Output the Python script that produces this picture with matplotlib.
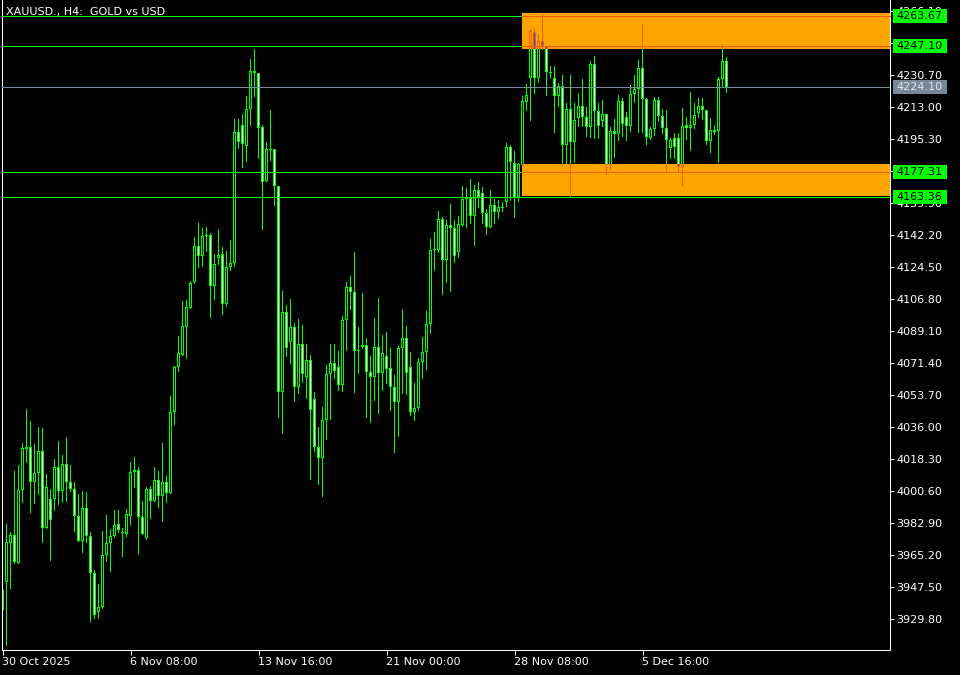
import numpy as np
import matplotlib
matplotlib.use("Agg")
import matplotlib.pyplot as plt
import matplotlib.transforms as mtransforms
from matplotlib.patches import Rectangle

# XAUUSD H4 bars, 30 Oct 2025 -> 9 Dec 2025
opens = [
    3935.0, 3950.4, 3972.0, 3976.4, 3961.0, 4001.3, 4024.0, 4025.1, 4005.8, 4010.7,
    4022.9, 3980.3, 3996.3, 3996.3, 4014.0, 4000.7, 4015.8, 4005.8, 4001.9, 3986.9,
    3973.1, 3991.3, 3975.9, 3955.4, 3933.8, 3936.6, 3965.4, 3972.0, 3975.9, 3982.5,
    3978.1, 3977.0, 3986.9, 4011.3, 4012.4, 3986.4, 3974.8, 4001.9, 3995.2, 4006.9,
    3998.0, 4005.8, 3999.7, 4044.5, 4069.4, 4076.0, 4091.5, 4102.0, 4116.4, 4136.3,
    4130.8, 4141.8, 4142.4, 4114.2, 4129.6, 4131.8, 4104.2, 4124.7, 4126.9, 4199.3,
    4203.2, 4191.6, 4212.1, 4232.0, 4232.0, 4202.1, 4172.2, 4189.4, 4189.9, 4169.5,
    4055.5, 4099.8, 4083.2, 4091.5, 4058.3, 4082.1, 4063.8, 4073.2, 4051.6, 4025.1,
    4019.0, 4040.0, 4065.5, 4071.6, 4069.4, 4059.4, 4095.4, 4113.6, 4110.8, 4078.8,
    4080.4, 4081.5, 4066.6, 4063.8, 4080.4, 4066.0, 4075.4, 4068.8, 4058.3, 4050.0,
    4079.9, 4085.4, 4069.4, 4044.5, 4046.7, 4072.1, 4077.6, 4093.1, 4134.1, 4134.1,
    4151.2, 4128.5, 4147.9, 4146.2, 4133.0, 4147.9, 4162.3, 4162.8, 4152.9, 4167.3,
    4165.6, 4154.5, 4146.8, 4159.0, 4155.1, 4157.3, 4160.6, 4191.0, 4182.2, 4163.4,
    4181.1, 4215.9, 4229.2, 4254.6, 4229.2, 4249.7, 4246.9, 4232.5, 4229.2, 4219.3,
    4224.8, 4192.1, 4212.1, 4193.8, 4207.1, 4213.7, 4207.6, 4202.1, 4236.9, 4211.0,
    4205.4, 4209.3, 4181.1, 4199.9, 4198.2, 4216.5, 4207.6, 4202.7, 4220.4, 4223.1,
    4234.7, 4217.6, 4196.0, 4201.0, 4217.0, 4208.2, 4201.6, 4190.5, 4196.0, 4196.0,
    4180.0, 4203.2, 4201.6, 4203.2, 4209.8, 4213.7, 4211.5, 4194.4, 4199.3, 4199.9,
    4228.7, 4238.6,
]
highs = [
    3950.4, 3982.5, 3978.1, 4011.8, 4015.2, 4027.3, 4046.1, 4039.5, 4026.8, 4036.2,
    4035.6, 4010.2, 4001.9, 4018.5, 4028.4, 4020.7, 4030.6, 4015.2, 4005.8, 3999.1,
    4000.8, 4000.2, 3978.1, 3957.1, 3949.3, 3978.6, 3987.5, 3979.7, 3990.3, 3990.3,
    3980.3, 3990.8, 4016.8, 4019.6, 4014.0, 3995.2, 4003.0, 4003.5, 4014.0, 4011.8,
    4027.3, 4009.1, 4053.3, 4069.9, 4086.5, 4105.9, 4106.4, 4116.9, 4141.2, 4149.0,
    4146.2, 4146.8, 4143.5, 4131.8, 4145.7, 4135.7, 4133.5, 4139.6, 4206.5, 4206.5,
    4209.3, 4219.3, 4239.7, 4245.2, 4232.0, 4203.2, 4193.8, 4211.5, 4189.9, 4169.5,
    4111.4, 4103.6, 4107.0, 4093.7, 4095.9, 4092.6, 4082.1, 4076.0, 4055.5, 4036.2,
    4047.2, 4070.5, 4082.1, 4082.1, 4078.2, 4097.6, 4116.4, 4119.7, 4133.0, 4091.5,
    4110.3, 4085.4, 4075.4, 4096.5, 4107.5, 4087.1, 4088.7, 4079.9, 4064.9, 4081.0,
    4101.4, 4092.0, 4077.6, 4060.5, 4074.3, 4086.0, 4100.3, 4140.2, 4144.0, 4155.6,
    4152.3, 4150.7, 4159.5, 4150.7, 4152.9, 4169.5, 4168.4, 4173.3, 4170.0, 4171.7,
    4168.9, 4156.7, 4167.3, 4162.3, 4161.7, 4160.6, 4193.2, 4192.1, 4188.8, 4182.2,
    4219.3, 4225.9, 4256.3, 4256.3, 4253.5, 4264.6, 4247.5, 4235.8, 4235.8, 4226.4,
    4230.9, 4215.4, 4230.9, 4215.4, 4220.9, 4228.7, 4213.2, 4238.6, 4241.4, 4215.4,
    4217.0, 4209.3, 4202.1, 4206.5, 4219.8, 4218.1, 4210.4, 4225.3, 4230.9, 4239.2,
    4259.1, 4218.1, 4202.1, 4218.7, 4218.7, 4212.1, 4211.5, 4196.0, 4198.8, 4198.8,
    4212.6, 4207.6, 4221.5, 4215.4, 4218.1, 4218.1, 4211.5, 4207.1, 4203.2, 4229.8,
    4248.0, 4240.8,
]
lows = [
    3927.8, 3915.0, 3946.6, 3960.4, 3960.4, 3994.1, 4016.3, 3988.6, 3993.6, 3998.6,
    3972.0, 3979.8, 3962.0, 3989.7, 3993.0, 3994.1, 3994.6, 4000.2, 3978.1, 3972.6,
    3966.5, 3972.0, 3928.5, 3930.1, 3929.8, 3935.3, 3961.5, 3956.1, 3974.9, 3977.6,
    3964.4, 3975.1, 3982.0, 4002.4, 3965.4, 3976.4, 3973.7, 3985.4, 3994.6, 3991.3,
    3983.6, 3994.1, 3999.1, 4037.3, 4066.6, 4075.4, 4073.8, 4101.4, 4115.3, 4124.1,
    4124.7, 4133.0, 4096.5, 4106.4, 4125.8, 4098.1, 4102.5, 4122.5, 4124.7, 4189.9,
    4179.4, 4182.7, 4202.7, 4218.7, 4184.4, 4145.1, 4171.7, 4183.3, 4158.4, 4041.1,
    4032.3, 4074.9, 4071.0, 4050.0, 4054.4, 4060.5, 4051.6, 4006.9, 4022.3, 4004.1,
    3997.5, 4029.0, 4040.0, 4062.7, 4056.1, 4055.5, 4078.2, 4100.9, 4055.0, 4065.5,
    4079.3, 4041.1, 4038.4, 4050.5, 4043.4, 4056.1, 4059.9, 4045.0, 4021.8, 4030.6,
    4054.4, 4053.9, 4042.3, 4039.5, 4045.0, 4062.7, 4067.7, 4087.6, 4122.5, 4132.4,
    4109.2, 4115.8, 4110.8, 4126.9, 4129.6, 4146.8, 4146.2, 4148.5, 4136.3, 4157.3,
    4148.5, 4142.4, 4146.2, 4148.5, 4151.2, 4155.1, 4157.9, 4161.2, 4151.8, 4160.6,
    4180.5, 4211.0, 4205.4, 4220.4, 4226.4, 4244.7, 4219.3, 4229.2, 4198.8, 4213.2,
    4180.5, 4181.6, 4163.4, 4182.2, 4202.1, 4202.1, 4196.6, 4196.0, 4195.5, 4195.5,
    4202.1, 4175.6, 4178.3, 4185.0, 4194.4, 4196.6, 4194.4, 4199.3, 4215.4, 4198.8,
    4198.8, 4192.1, 4194.9, 4197.1, 4204.9, 4198.2, 4176.7, 4184.4, 4184.4, 4177.2,
    4169.5, 4194.9, 4188.8, 4201.0, 4207.1, 4206.0, 4192.1, 4187.7, 4197.7, 4182.2,
    4224.2, 4220.9,
]
closes = [
    3946.0, 3972.6, 3976.4, 3961.5, 4001.3, 4024.6, 4025.1, 4005.8, 4010.7, 4022.9,
    3980.3, 4003.0, 3984.7, 4014.0, 4000.7, 4015.8, 4005.8, 4001.9, 3986.9, 3973.1,
    3991.3, 3975.9, 3955.4, 3932.2, 3936.6, 3965.4, 3972.0, 3975.9, 3981.9, 3979.2,
    3977.6, 3988.0, 4011.3, 4012.4, 3986.4, 3977.0, 4001.9, 3995.2, 4006.9, 3998.0,
    4005.8, 3999.7, 4044.5, 4069.4, 4077.1, 4092.0, 4102.5, 4115.8, 4136.3, 4130.8,
    4141.8, 4142.4, 4114.2, 4126.3, 4131.3, 4104.2, 4124.7, 4126.9, 4199.3, 4193.8,
    4192.7, 4212.1, 4233.1, 4233.1, 4201.6, 4171.7, 4189.9, 4189.9, 4169.5, 4055.5,
    4099.8, 4079.9, 4091.5, 4058.3, 4082.1, 4065.5, 4073.2, 4045.6, 4025.1, 4019.0,
    4040.0, 4065.5, 4071.6, 4067.1, 4059.4, 4095.4, 4113.6, 4110.8, 4078.2, 4078.2,
    4081.5, 4066.6, 4063.8, 4080.4, 4066.0, 4077.1, 4068.2, 4058.3, 4050.0, 4079.9,
    4085.4, 4066.0, 4044.5, 4046.7, 4072.1, 4077.6, 4093.1, 4134.1, 4134.6, 4151.2,
    4128.5, 4147.9, 4146.2, 4130.8, 4148.5, 4162.3, 4162.8, 4152.9, 4167.3, 4163.4,
    4154.5, 4146.8, 4159.0, 4155.1, 4157.9, 4157.9, 4191.0, 4182.7, 4163.4, 4181.6,
    4216.5, 4219.8, 4255.2, 4229.2, 4249.7, 4246.9, 4232.5, 4232.0, 4219.3, 4224.8,
    4192.1, 4212.1, 4193.8, 4206.0, 4213.7, 4207.6, 4202.1, 4236.9, 4211.0, 4202.7,
    4209.3, 4181.1, 4199.9, 4198.2, 4216.5, 4203.8, 4202.7, 4220.4, 4223.1, 4234.7,
    4217.6, 4196.6, 4201.0, 4217.0, 4208.2, 4201.6, 4194.9, 4194.9, 4191.0, 4180.0,
    4202.7, 4201.6, 4203.2, 4208.7, 4213.7, 4211.5, 4194.4, 4200.4, 4200.4, 4228.7,
    4238.6, 4224.1,
]

# horizontal levels drawn on the chart
levels = [4263.67, 4247.10, 4177.31, 4163.36]
bid_price = 4224.10
# supply / demand zones: (first bar, upper price, lower price)
zones = [(129.9, 4265.2, 4245.3), (129.9, 4181.6, 4164.0)]

price_ticks = [3929.80, 3947.50, 3965.20, 3982.90, 4000.60, 4018.30, 4036.00,
               4053.70, 4071.40, 4089.10, 4106.80, 4124.50, 4142.20, 4159.90,
               4177.60, 4195.30, 4213.00, 4230.70, 4248.40, 4266.10]
time_tick_bars = [0, 32, 64, 96, 128, 160]
time_tick_labels = ["30 Oct 2025", "6 Nov 08:00", "13 Nov 16:00",
                    "21 Nov 00:00", "28 Nov 08:00", "5 Dec 16:00"]

W, H = 960, 675
PX = 0.72          # one pixel in points at dpi 100
Y_PX = 0.55312     # one pixel in price units
GREEN = "#00ff00"


def draw_candles(ax, edge, up_fill, down_fill, clip=None, z=2):
    o = np.asarray(opens)
    c = np.asarray(closes)
    lo = np.asarray(lows)
    hi = np.asarray(highs)
    x = np.arange(len(o))
    top = np.maximum(o, c)
    bot = np.minimum(o, c)
    arts = []
    # wick: 1 px column
    arts += list(ax.bar(x, hi - lo, bottom=lo, width=0.25, color=edge,
                        linewidth=0, zorder=z))
    # body: 3 px block in the outline colour ...
    arts += list(ax.bar(x, np.maximum(top - bot, Y_PX), bottom=bot, width=0.75,
                        color=edge, linewidth=0, zorder=z + 0.1))
    # ... with a 1 px core in the fill colour
    tall = (top - bot) > 2.5 * Y_PX
    fills = [up_fill if cc >= oo else down_fill for oo, cc in zip(o[tall], c[tall])]
    arts += list(ax.bar(x[tall], (top - bot)[tall] - 2 * Y_PX,
                        bottom=bot[tall] + Y_PX, width=0.25, color=fills,
                        linewidth=0, zorder=z + 0.2))
    if clip is not None:
        for a in arts:
            a.set_clip_path(clip)


fig = plt.figure(figsize=(W / 100, H / 100), dpi=100, facecolor="black")
ax = fig.add_axes([2 / W, 25 / H, 888 / W, 650 / H], facecolor="black")

draw_candles(ax, GREEN, "black", "white")

for lv in levels:
    ax.axhline(lv, color=GREEN, linewidth=PX, zorder=3, antialiased=False)
ax.axhline(bid_price, color="#778899", linewidth=PX, zorder=3, antialiased=False)

# zones: MT draws them XOR'ed over the chart
for start, top, bottom in zones:
    rect = Rectangle((start, bottom), 120, top - bottom, facecolor="#ffa500",
                     edgecolor="none", zorder=4)
    ax.add_patch(rect)
    draw_candles(ax, "#ff5a00", "#ffa500", "#005aff", clip=rect, z=5)
    for lv in levels:
        ln = ax.axhline(lv, color="#ff5a00", linewidth=PX, zorder=6,
                        antialiased=False)
        ln.set_clip_path(rect)

# price labels on the right scale
blend = mtransforms.blended_transform_factory(fig.transFigure, ax.transData)
box_h = 14 * Y_PX
tags = [(lv, GREEN, "black") for lv in levels] + [(bid_price, "#778899", "#e6e6e6")]
for price, bg, fg in tags:
    ax.add_patch(Rectangle((892.7 / W, price - box_h / 2), 54.6 / W, box_h,
                           transform=blend, facecolor=bg, edgecolor="none",
                           clip_on=False, zorder=10))
    ax.text(896 / W, price, f"{price:.2f}", transform=blend, color=fg,
            fontsize=8, va="center", ha="left", clip_on=False, zorder=11)

ax.yaxis.tick_right()
ax.set_yticks(price_ticks)
ax.set_yticklabels([f"{t:.2f}" for t in price_ticks])
ax.tick_params(axis="y", colors="white", labelsize=8, length=3, width=PX, pad=1.5)

ax.set_xticks(time_tick_bars)
ax.set_xticklabels(time_tick_labels, ha="left")
ax.tick_params(axis="x", colors="white", labelsize=8, length=3.5, width=PX, pad=1.5)

for side in ["left", "bottom", "right"]:
    ax.spines[side].set_color("white")
    ax.spines[side].set_linewidth(PX)
ax.spines["top"].set_visible(False)

ax.set_xlim(-0.125, 221.875)
ax.set_ylim(3912.82, 4272.35)

fig.text(6 / W, 1 - 11.5 / H, "XAUUSD., H4:  GOLD vs USD", color="white",
         fontsize=8, va="center", ha="left")

fig.savefig("out.png", dpi=100, facecolor="black")
